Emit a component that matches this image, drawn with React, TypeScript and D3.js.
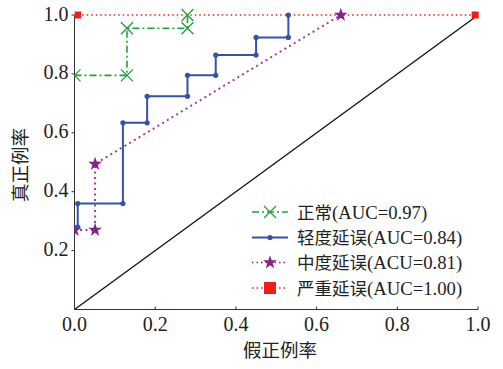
import React from "react";
import * as d3 from "d3";

const xTicks = [0, 0.2, 0.4, 0.6, 0.8, 1.0];
const yTicks = [0.2, 0.4, 0.6, 0.8, 1.0];

const normalFpr = [0, 0.13, 0.13, 0.28, 0.28];
const normalTpr = [0.795, 0.795, 0.955, 0.955, 1.0];

const mildFpr = [0.008, 0.008, 0.12, 0.12, 0.18, 0.18, 0.28, 0.28, 0.35, 0.35, 0.45, 0.45, 0.53, 0.53];
const mildTpr = [0.28, 0.36, 0.36, 0.634, 0.634, 0.724, 0.724, 0.795, 0.795, 0.864, 0.864, 0.924, 0.924, 1.0];

const modFpr = [0, 0.051, 0.051, 0.66];
const modTpr = [0.27, 0.27, 0.494, 1.0];

const sevFpr = [0.008, 0.993];
const sevTpr = [1.0, 1.0];

const legendLabels = ["正常(AUC=0.97)", "轻度延误(AUC=0.84)", "中度延误(ACU=0.81)", "严重延误(AUC=1.00)"];

const W = 503, H = 369;
const x = d3.scaleLinear().domain([0, 1]).range([74.5, 478]);
const y = d3.scaleLinear().domain([0, 1]).range([309.5, 15]);

const GREEN = "#1fa03a";
const BLUE = "#3551a8";
const PURPLE = "#87208a";
const RED = "#f01c1c";
const NUM_FONT = "'Liberation Serif', 'Times New Roman', serif";
const CJK_FONT = "'Noto Sans CJK SC', sans-serif";

const zip = (a: number[], b: number[]) => a.map((v, i) => [v, b[i]] as [number, number]);
const line = d3.line<[number, number]>().x(d => x(d[0])).y(d => y(d[1]));
const starPath = (r: number) => d3.symbol().type(d3.symbolStar).size(r)() as string;

function XMark({ cx, cy, s = 6 }: { cx: number; cy: number; s?: number }) {
  return (
    <path d={`M${cx - s},${cy - s}L${cx + s},${cy + s}M${cx - s},${cy + s}L${cx + s},${cy - s}`} stroke={GREEN} strokeWidth={1.3} fill="none" />
  );
}

export default function App() {
  const normal = zip(normalFpr, normalTpr);
  const mild = zip(mildFpr, mildTpr);
  const mod = zip(modFpr, modTpr);
  const sev = zip(sevFpr, sevTpr);
  const legendY = [212, 237.5, 262.5, 288];
  return (
    <svg width={W} height={H} style={{ position: "absolute", left: 0, top: 0, background: "#fff" }}>
      <defs>
        <clipPath id="plot">
          <rect x={x(0)} y={y(1) - 8} width={x(1) - x(0) + 10} height={y(0) - y(1) + 8} />
        </clipPath>
      </defs>
      {/* axes */}
      <line x1={x(0)} x2={x(1)} y1={y(0)} y2={y(0)} stroke="#333" strokeWidth={1} />
      <line x1={x(0)} x2={x(0)} y1={y(0)} y2={y(1)} stroke="#333" strokeWidth={1} />
      {xTicks.map(t => (
        <g key={"x" + t}>
          <line x1={x(t)} x2={x(t)} y1={y(0)} y2={y(0) - 3} stroke="#333" />
          <text x={x(t)} y={330.5} textAnchor="middle" fontFamily={NUM_FONT} fontSize={20} fill="#222">{t.toFixed(1)}</text>
        </g>
      ))}
      {yTicks.map(t => (
        <g key={"y" + t}>
          <line x1={x(0)} x2={x(0) - 3} y1={y(t)} y2={y(t)} stroke="#333" />
          <text x={68.5} y={y(t) + 5.5} textAnchor="end" fontFamily={NUM_FONT} fontSize={20} fill="#222">{t.toFixed(1)}</text>
        </g>
      ))}
      <text x={280} y={357} textAnchor="middle" fontFamily={CJK_FONT} fontSize={18.5} fill="#222">假正例率</text>
      <text transform="translate(27,165) rotate(-90)" textAnchor="middle" fontFamily={CJK_FONT} fontSize={18.5} fill="#222">真正例率</text>

      <g clipPath="url(#plot)">
        {/* diagonal */}
        <line x1={x(0)} y1={y(0)} x2={x(0.99)} y2={y(0.99)} stroke="#111" strokeWidth={1.3} />
        {/* severe */}
        <path d={line(sev) as string} stroke={RED} strokeWidth={1.4} strokeDasharray="1.5,3" fill="none" />
        {sev.map((d, i) => <rect key={i} x={x(d[0]) - 3.5} y={y(d[1]) - 3.5} width={7} height={7} fill={RED} />)}
        {/* moderate */}
        <path d={line(mod) as string} stroke={PURPLE} strokeWidth={2} strokeDasharray="2,3.5" fill="none" opacity={0.85} />
        {mod.map((d, i) => <path key={i} d={starPath(60)} transform={`translate(${x(d[0])},${y(d[1])})`} fill={PURPLE} />)}
        {/* mild */}
        <path d={line(mild) as string} stroke={BLUE} strokeWidth={2} fill="none" />
        {mild.map((d, i) => <circle key={i} cx={x(d[0])} cy={y(d[1])} r={2.6} fill={BLUE} />)}
        {/* normal */}
        <path d={line(normal) as string} stroke={GREEN} strokeWidth={1.6} strokeDasharray="7,3,2,3" fill="none" />
        {normal.map((d, i) => <XMark key={i} cx={x(d[0])} cy={y(d[1])} />)}
      </g>

      {/* legend */}
      <g>
        <line x1={252} x2={288} y1={legendY[0]} y2={legendY[0]} stroke={GREEN} strokeWidth={1.6} strokeDasharray="7,3,2,3" />
        <XMark cx={270} cy={legendY[0]} />
        <line x1={252} x2={288} y1={legendY[1]} y2={legendY[1]} stroke={BLUE} strokeWidth={2} />
        <circle cx={270} cy={legendY[1]} r={2.6} fill={BLUE} />
        <line x1={252} x2={288} y1={legendY[2]} y2={legendY[2]} stroke={PURPLE} strokeWidth={1.6} strokeDasharray="1.5,3" />
        <path d={starPath(60)} transform={`translate(270,${legendY[2]})`} fill={PURPLE} />
        <line x1={252} x2={288} y1={legendY[3]} y2={legendY[3]} stroke={RED} strokeWidth={1.4} strokeDasharray="1.5,3" />
        <rect x={264} y={legendY[3] - 6} width={12} height={12} fill={RED} />
        {legendLabels.map((s, i) => {
          const k = s.indexOf("(");
          return (
            <text key={i} x={297} y={legendY[i] + 6.5} fill="#222">
              <tspan fontFamily={CJK_FONT} fontSize={17.5}>{s.slice(0, k)}</tspan>
              <tspan fontFamily={NUM_FONT} fontSize={18.7}>{s.slice(k)}</tspan>
            </text>
          );
        })}
      </g>
    </svg>
  );
}
